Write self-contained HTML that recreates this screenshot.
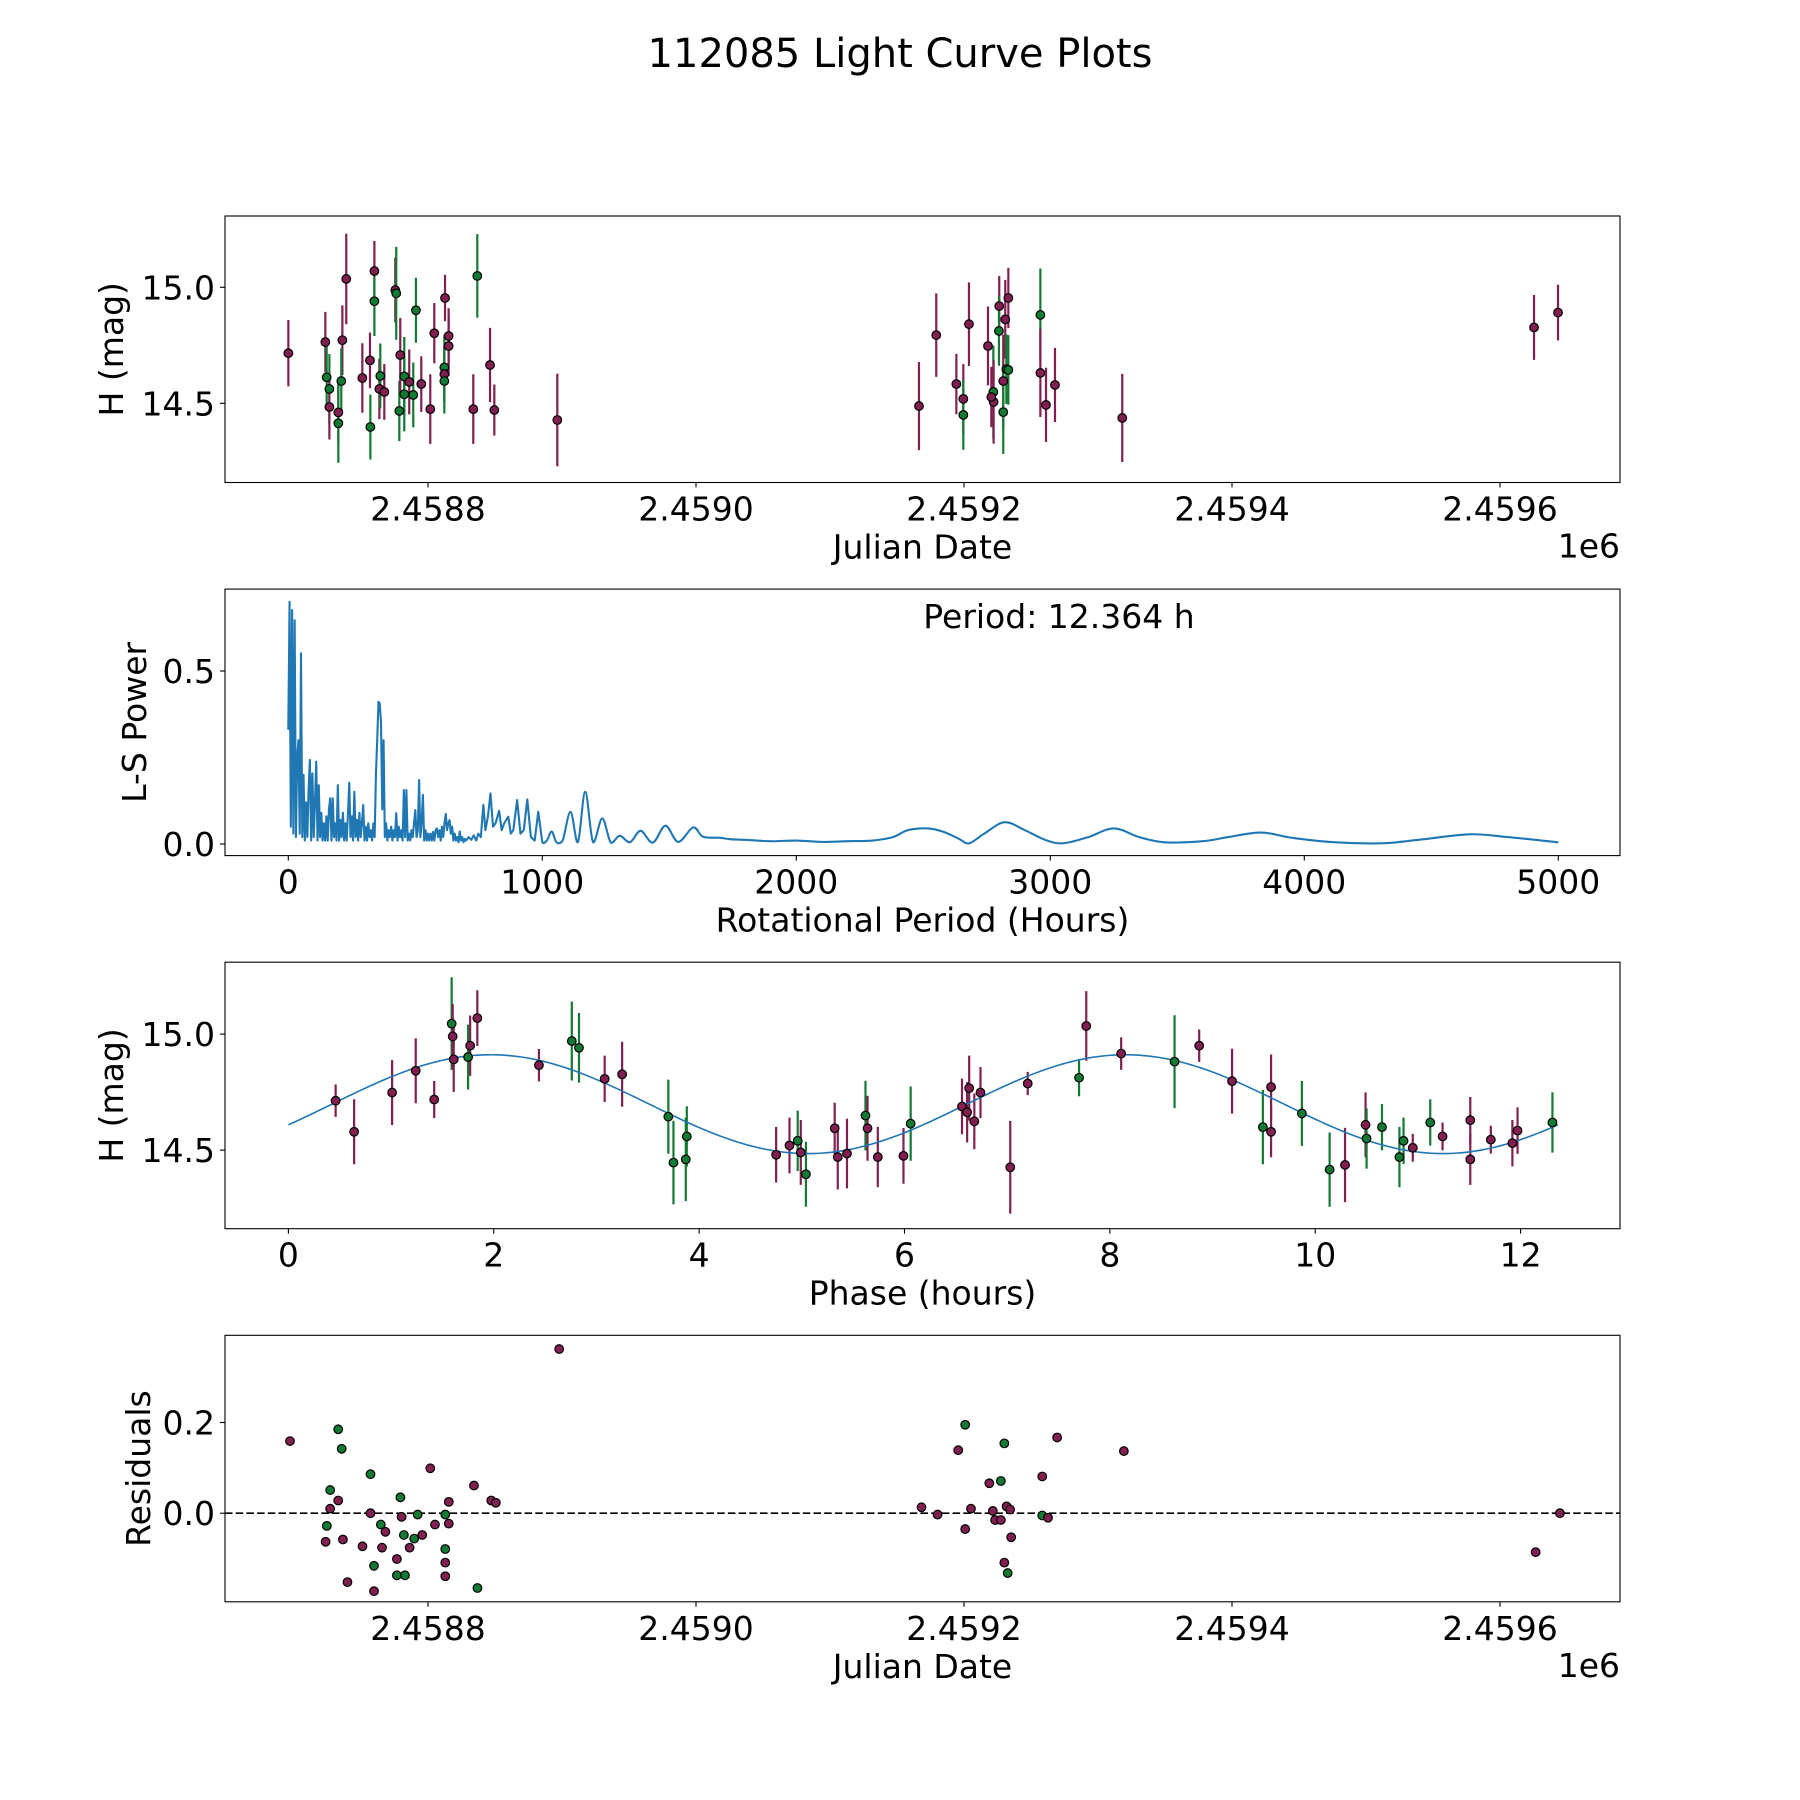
<!DOCTYPE html>
<html><head><meta charset="utf-8"><style>
html,body{margin:0;padding:0;background:#fff}
svg{display:block;font-family:"DejaVu Sans","Liberation Sans",sans-serif}
</style></head><body>
<svg id="fig" width="1800" height="1800" viewBox="0 0 1800 1800" xmlns="http://www.w3.org/2000/svg">
<rect x="0" y="0" width="1800" height="1800" fill="#fff"/>
<text x="900" y="67" font-size="40" text-anchor="middle">112085 Light Curve Plots</text>
</svg>
<script>
// ---- Panel 1: observed light curve (JD offset from 2458800, magnitude, colour band) ----
const lcJD = [-104.2,-76.6,-75.6,-73.6,-73.6,-66.9,-66.9,-63.9,-64.7,-61,-49,-43.3,-43,-40,-40,-36.3,-35.6,-32.6,-24.4,-23.7,-21.4,-20.7,-17.7,-17.7,-14,-11,-9,-5,1.7,4.7,12.2,12.2,12.2,12.7,15.4,15.4,33.8,36.8,46.3,49.5,96.5,
366.4,379.3,394.3,399.5,399.5,403.7,417.9,421.9,422.1,420.4,426.3,426.1,429.3,429.3,430.8,431.6,433.1,433.1,457,457,461.2,467.9,518.1,825.4,843.3];
const lcMag = [14.716,14.764,14.612,14.562,14.484,14.461,14.414,14.772,14.596,15.036,14.609,14.685,14.398,15.070,14.940,14.562,14.618,14.549,14.988,14.974,14.467,14.708,14.616,14.539,14.592,14.536,14.901,14.583,14.475,14.802,14.655,14.626,14.596,14.954,14.790,14.747,14.475,15.049,14.665,14.471,14.428,
14.488,14.794,14.583,14.519,14.450,14.841,14.747,14.549,14.506,14.527,14.919,14.812,14.596,14.462,14.862,14.647,14.644,14.954,14.881,14.631,14.493,14.579,14.437,14.827,14.891];
const lcErr = [0.143,0.13,0.14,0.15,0.14,0.13,0.17,0.15,0.14,0.195,0.15,0.12,0.14,0.13,0.15,0.13,0.14,0.12,0.14,0.2,0.13,0.16,0.17,0.16,0.14,0.14,0.14,0.12,0.15,0.13,0.14,0.12,0.14,0.1,0.12,0.13,0.15,0.18,0.16,0.11,0.2,
0.19,0.18,0.13,0.15,0.15,0.18,0.17,0.2,0.18,0.13,0.13,0.15,0.2,0.18,0.17,0.15,0.15,0.13,0.2,0.19,0.16,0.16,0.19,0.14,0.12];
const lcBand = ['m','m','g','g','m','m','g','m','g','m','m','m','g','m','g','m','g','m','m','g','g','m','g','g','m','g','g','m','m','m','g','m','g','m','m','m','m','g','m','m','m',
'm','m','m','m','g','m','m','g','m','m','m','g','m','g','m','g','g','m','g','m','m','m','m','m','m'];

// ---- Panel 2: Lomb-Scargle periodogram ----
const lsPeriod = [
0,5,10,15,20,25,30,35,40,45,
50,55,60,65,70,75,80,85,90,95,
100,105,110,115,120,125,130,135,140,145,
150,155,160,165,170,175,180,185,190,195,
200,205,210,215,220,225,230,235,240,245,
250,255,260,265,270,275,280,285,290,295,
300,305,310,315,320,325,330,335,340,345,
350,355,360,365,370,375,380,385,390,395,
400,405,410,415,420,425,430,435,440,445,
450,455,460,465,470,475,480,485,490,495,
500,505,510,515,520,525,530,535,540,545,
550,555,560,565,570,575,580,585,590,595,
600,605,610,615,620,625,630,635,640,645,
650,655,660,665,670,675,680,685,690,695,
700,710,720,730,740,748,758,768,776,786,
796,806,816,830,840,850,866,876,886,901,
914,927,941,955,970,984,1000,1018,1037,1056,
1080,1111,1140,1169,1200,1236,1270,1305,1345,1387,
1435,1485,1535,1594,1633,1700,1738,1800,1900,2000,
2100,2200,2300,2380,2440,2520,2580,2640,2680,2740,
2820,2900,2980,3050,3150,3250,3350,3450,3600,3700,
3830,3950,4100,4300,4450,4650,4800,5000];
const lsPower = [
0.33,0.70,0.05,0.676,0.03,0.647,0.02,0.25,0.30,0.03,
0.551,0.02,0.2,0.01,0.12,0.02,0.16,0.243,0.01,0.204,
0.02,0.12,0.238,0.01,0.17,0.02,0.09,0.01,0.06,0.01,
0.08,0.01,0.1,0.132,0.01,0.132,0.02,0.06,0.01,0.17,
0.01,0.07,0.02,0.09,0.01,0.06,0.01,0.09,0.177,0.02,
0.08,0.01,0.151,0.02,0.07,0.01,0.09,0.02,0.06,0.113,
0.01,0.05,0.01,0.06,0.02,0.04,0.01,0.06,0.02,0.2,
0.3,0.411,0.407,0.35,0.1,0.30,0.02,0.06,0.01,0.04,
0.02,0.05,0.01,0.04,0.02,0.089,0.01,0.05,0.02,0.04,
0.01,0.156,0.02,0.156,0.01,0.03,0.01,0.04,0.02,0.06,
0.098,0.02,0.04,0.185,0.02,0.06,0.142,0.01,0.04,0.01,
0.03,0.01,0.03,0.01,0.035,0.01,0.04,0.045,0.02,0.04,
0.01,0.05,0.02,0.06,0.087,0.04,0.06,0.069,0.03,0.05,
0.01,0.03,0.01,0.02,0.005,0.036,0.01,0.02,0.005,0.015,
0.01,0.02,0.012,0.025,0.01,0.03,0.02,0.113,0.04,0.08,
0.146,0.05,0.06,0.096,0.04,0.06,0.079,0.03,0.04,0.127,
0.03,0.04,0.129,0.02,0.01,0.093,0.005,0.01,0.036,0.005,
0.01,0.093,0.005,0.151,0.005,0.074,0.004,0.024,0.005,0.038,
0.004,0.053,0.006,0.048,0.021,0.018,0.014,0.012,0.008,0.01,
0.006,0.008,0.01,0.02,0.04,0.045,0.035,0.015,0.002,0.03,
0.063,0.04,0.012,0.002,0.02,0.045,0.02,0.005,0.008,0.02,
0.033,0.018,0.006,0.002,0.012,0.028,0.02,0.005];
const periodLabel = "Period: 12.364 h";

// ---- Panel 3: phase-folded light curve ----
const phHours = [0.46,0.64,1.01,1.24,1.42,1.59,1.60,1.61,1.75,1.77,1.84,2.44,2.76,2.83,3.08,3.25,3.70,3.75,3.87,3.88,4.75,4.88,4.96,4.99,5.04,5.32,5.35,5.44,5.62,5.64,5.74,5.99,6.06,6.56,6.61,6.63,6.68,6.74,7.03,7.20,7.70,7.77,8.11,8.63,8.87,9.19,9.49,9.57,9.57,9.87,10.14,10.29,10.49,10.50,10.65,10.82,10.86,10.95,11.12,11.24,11.51,11.51,11.71,11.92,11.97,12.31];
const phMag = [14.713,14.579,14.748,14.842,14.718,15.045,14.990,14.891,14.901,14.950,15.069,14.866,14.970,14.941,14.807,14.827,14.644,14.446,14.460,14.559,14.480,14.520,14.540,14.490,14.396,14.594,14.470,14.485,14.649,14.594,14.470,14.475,14.614,14.688,14.663,14.767,14.624,14.748,14.426,14.787,14.812,15.035,14.916,14.881,14.950,14.797,14.599,14.772,14.579,14.658,14.416,14.436,14.609,14.550,14.599,14.470,14.540,14.510,14.619,14.559,14.629,14.460,14.545,14.530,14.584,14.619];
const phErr = [0.07,0.14,0.14,0.14,0.08,0.2,0.14,0.14,0.14,0.13,0.12,0.07,0.17,0.15,0.1,0.14,0.16,0.18,0.18,0.13,0.12,0.12,0.13,0.14,0.14,0.11,0.14,0.15,0.15,0.14,0.13,0.12,0.16,0.12,0.13,0.14,0.12,0.11,0.2,0.05,0.08,0.15,0.07,0.2,0.07,0.14,0.16,0.14,0.11,0.14,0.16,0.16,0.14,0.13,0.1,0.13,0.1,0.06,0.1,0.06,0.1,0.11,0.06,0.1,0.1,0.13];
const phBand = ['m','m','m','m','m','g','m','m','g','m','m','m','g','g','m','m','g','g','g','g','m','m','g','m','g','m','m','m','g','m','m','m','g','m','m','m','m','m','m','m','g','m','m','g','m','m','g','m','m','g','g','m','m','g','g','g','g','m','g','m','m','m','m','m','m','g'];
const fitPeriod = 12.364;
const fitMean = 14.698, fitAmp = 0.213, fitPhase0 = 0.424, fitHalf = 6.182;

// ---- Panel 4: residuals ----
const resJD = [-103.0,-76.4,-75.5,-73.0,-73.0,-67.0,-67.0,-64.4,-63.5,-60.1,-48.9,-42.9,-42.9,-40.3,-40.3,-35.2,-34.3,-31.8,-23.2,-23.2,-20.6,-19.7,-18.0,-17.2,-13.7,-10.3,-7.7,-4.3,1.7,5.2,12.9,12.9,12.9,12.9,15.5,15.5,34.3,36.9,47.2,50.6,97.9,368.3,380.3,395.7,400.9,400.9,405.2,418.9,421.5,423.2,427.5,427.5,430.1,430.1,431.8,432.6,434.4,435.2,458.4,458.4,462.7,469.5,519.3,826.6,844.7];
const resVal = [0.159,-0.063,-0.028,0.051,0.010,0.185,0.028,0.142,-0.058,-0.152,-0.073,0.086,0.0,-0.116,-0.172,-0.025,-0.076,-0.041,-0.101,-0.137,0.035,-0.008,-0.048,-0.137,-0.076,-0.056,-0.003,-0.048,0.099,-0.025,-0.003,-0.079,-0.109,-0.139,0.025,-0.023,0.061,-0.165,0.028,0.023,0.362,0.013,-0.003,0.139,0.195,-0.035,0.010,0.066,0.005,-0.015,-0.015,0.071,0.154,-0.109,0.015,-0.132,0.008,-0.053,0.081,-0.005,-0.010,0.167,0.137,-0.086,0.0];
const resBand = ['m','m','g','g','m','g','m','g','m','m','m','g','m','g','m','g','m','m','m','g','g','m','g','g','m','g','g','m','m','m','g','g','m','m','m','m','m','g','m','m','m','m','m','m','g','m','m','m','m','m','m','g','g','m','m','g','m','m','m','g','m','m','m','m','m'];

const jdTickLabels = ['2.4588','2.4590','2.4592','2.4594','2.4596'];
const jdTickVals = [0,200,400,600,800];
const lsTickVals = [0,1000,2000,3000,4000,5000];
const phTickVals = [0,2,4,6,8,10,12];
const magTickVals = [15.0,14.5];
const lsYTicks = [0.0,0.5];
const resYTicks = [0.2,0.0];

const NS='http://www.w3.org/2000/svg';
const svg=document.getElementById('fig');
const COL={m:'#801f50',g:'#127a32'};
const L=225,R=1620,H=266.5;
const FS=33;
const tops=[216,589.1,962.2,1335.3];
function mk(tag,attrs,parent){const e=document.createElementNS(NS,tag);for(const k in attrs)e.setAttribute(k,attrs[k]);(parent||svg).appendChild(e);return e;}
function lin(d0,d1,p0,p1){return v=>p0+(v-d0)*(p1-p0)/(d1-d0);}

function axesFrame(name){
  const g=mk('g',{});
  
  
  return g;
}
function border(g,top){
  const r=mk('rect',{x:L,y:top,width:R-L,height:H,fill:'none',stroke:'#000','stroke-width':1.1},g);
  
  
}
function xTicks(g,top,sx,vals,labels){
  vals.forEach((v,k)=>{
    const x=sx(v);
    const t=mk('line',{x1:x,x2:x,y1:top+H,y2:top+H+5,stroke:'#000','stroke-width':1.1},g);
    
    
    const tx=mk('text',{x:x,y:top+H+38,'font-size':FS,'text-anchor':'middle'},g);
    
    
    tx.textContent=labels[k];
  });
}
function yTicks(g,top,sy,vals,labels){
  vals.forEach((v,k)=>{
    const y=sy(v);
    const t=mk('line',{x1:L-5,x2:L,y1:y,y2:y,stroke:'#000','stroke-width':1.1},g);
    
    
    const tx=mk('text',{x:L-10,y:y+12,'font-size':FS,'text-anchor':'end'},g);
    
    
    tx.textContent=labels[k];
  });
}
function xLabel(g,top,txt){
  const t=mk('text',{x:(L+R)/2,y:top+H+76,'font-size':FS,'text-anchor':'middle'},g);
  
  
  t.textContent=txt;
}
function yLabel(g,top,txt,x){
  const cy=top+H/2;
  const t=mk('text',{x:x,y:cy,'font-size':FS,'text-anchor':'middle',transform:`rotate(-90 ${x} ${cy})`},g);
  
  
  t.textContent=txt;
}
function offsetText(g,top){
  const t=mk('text',{x:R,y:top+H+75,'font-size':FS,'text-anchor':'end'},g);
  
  
  t.textContent='1e6';
}
function dot(g,x,y,c){
  const d=mk('circle',{cx:x,cy:y,r:4.3,fill:c,stroke:'#000','stroke-width':1.2},g);
  
  
}
function ebar(g,x,y1,y2,c){
  const e=mk('line',{x1:x,x2:x,y1:y1,y2:y2,stroke:c,'stroke-width':2.2},g);
  
  
}

// Panel 1
(function(){
  const top=tops[0];
  const g=axesFrame('light-curve-panel');
  const sx=lin(0,1,428,429.34);
  const sy=lin(15.0,14.5,top+71.3,top+187.3);
  lcJD.forEach((j,i)=>ebar(g,sx(j),sy(lcMag[i]+lcErr[i]),sy(lcMag[i]-lcErr[i]),COL[lcBand[i]]));
  lcJD.forEach((j,i)=>dot(g,sx(j),sy(lcMag[i]),COL[lcBand[i]]));
  border(g,top);
  xTicks(g,top,sx,jdTickVals,jdTickLabels);
  yTicks(g,top,sy,magTickVals,magTickVals.map(v=>v.toFixed(1)));
  xLabel(g,top,'Julian Date');
  offsetText(g,top);
  yLabel(g,top,'H (mag)',123);
})();

// Panel 2
(function(){
  const top=tops[1];
  const g=axesFrame('periodogram-panel');
  const sx=lin(0,1000,288.3,542.3);
  const sy=lin(0,0.5,top+254.9,top+81.9);
  const n=Math.min(lsPeriod.length,lsPower.length);
  const pts=[];
  for(let i=0;i<n;i++)pts.push([sx(lsPeriod[i]),sy(lsPower[i])]);
  let d='';
  for(let i=0;i<n;i++){
    if(i===0){d+=`M${pts[0][0].toFixed(2)},${pts[0][1].toFixed(2)}`;continue;}
    if(lsPeriod[i]<=1000){d+=`L${pts[i][0].toFixed(2)},${pts[i][1].toFixed(2)}`;}
    else{
      const p0=pts[Math.max(0,i-2)],p1=pts[i-1],p2=pts[i],p3=pts[Math.min(n-1,i+1)];
      const c1x=p1[0]+(p2[0]-p0[0])/6,c1y=p1[1]+(p2[1]-p0[1])/6;
      const c2x=p2[0]-(p3[0]-p1[0])/6,c2y=p2[1]-(p3[1]-p1[1])/6;
      d+=`C${c1x.toFixed(2)},${Math.min(c1y,sy(0)).toFixed(2)} ${c2x.toFixed(2)},${Math.min(c2y,sy(0)).toFixed(2)} ${p2[0].toFixed(2)},${p2[1].toFixed(2)}`;
    }
  }
  const path=mk('path',{d:d,fill:'none',stroke:'#1f77b4','stroke-width':2.1,'stroke-linejoin':'round'},g);
  
  
  border(g,top);
  xTicks(g,top,sx,lsTickVals,lsTickVals.map(String));
  yTicks(g,top,sy,lsYTicks,lsYTicks.map(v=>v.toFixed(1)));
  xLabel(g,top,'Rotational Period (Hours)');
  yLabel(g,top,'L-S Power',146);
  const t=mk('text',{x:1059,y:top+39,'font-size':FS,'text-anchor':'middle'},g);
  
  
  t.textContent=periodLabel;
})();

// Panel 3
(function(){
  const top=tops[2];
  const g=axesFrame('phase-folded-panel');
  const sx=lin(0,12,288.4,1520.6);
  const sy=lin(15.0,14.5,top+71.9,top+187.9);
  let d='';
  const N=300;
  for(let k=0;k<=N;k++){
    const p=fitPeriod*k/N;
    const m=fitMean+fitAmp*Math.sin(2*Math.PI*(p-fitPhase0)/fitHalf);
    d+=(k?'L':'M')+sx(p).toFixed(2)+','+sy(m).toFixed(2);
  }
  phHours.forEach((p,i)=>ebar(g,sx(p),sy(phMag[i]+phErr[i]),sy(phMag[i]-phErr[i]),COL[phBand[i]]));
  const path=mk('path',{d:d,fill:'none',stroke:'#1f77b4','stroke-width':1.6},g);
  
  
  phHours.forEach((p,i)=>dot(g,sx(p),sy(phMag[i]),COL[phBand[i]]));
  border(g,top);
  xTicks(g,top,sx,phTickVals,phTickVals.map(String));
  yTicks(g,top,sy,magTickVals,magTickVals.map(v=>v.toFixed(1)));
  xLabel(g,top,'Phase (hours)');
  yLabel(g,top,'H (mag)',123);
})();

// Panel 4
(function(){
  const top=tops[3];
  const g=axesFrame('residuals-panel');
  const sx=lin(0,1,428,429.34);
  const sy=lin(0,0.2,top+177.9,top+87.2);
  const zl=mk('line',{x1:L,x2:R,y1:sy(0),y2:sy(0),stroke:'#000','stroke-width':1.6,'stroke-dasharray':'7.5,3.2'},g);
  
  
  resJD.forEach((j,i)=>dot(g,sx(j),sy(resVal[i]),COL[resBand[i]]));
  border(g,top);
  xTicks(g,top,sx,jdTickVals,jdTickLabels);
  yTicks(g,top,sy,resYTicks,resYTicks.map(v=>v.toFixed(1)));
  xLabel(g,top,'Julian Date');
  offsetText(g,top);
  yLabel(g,top,'Residuals',150);
})();
</script>
</body></html>
